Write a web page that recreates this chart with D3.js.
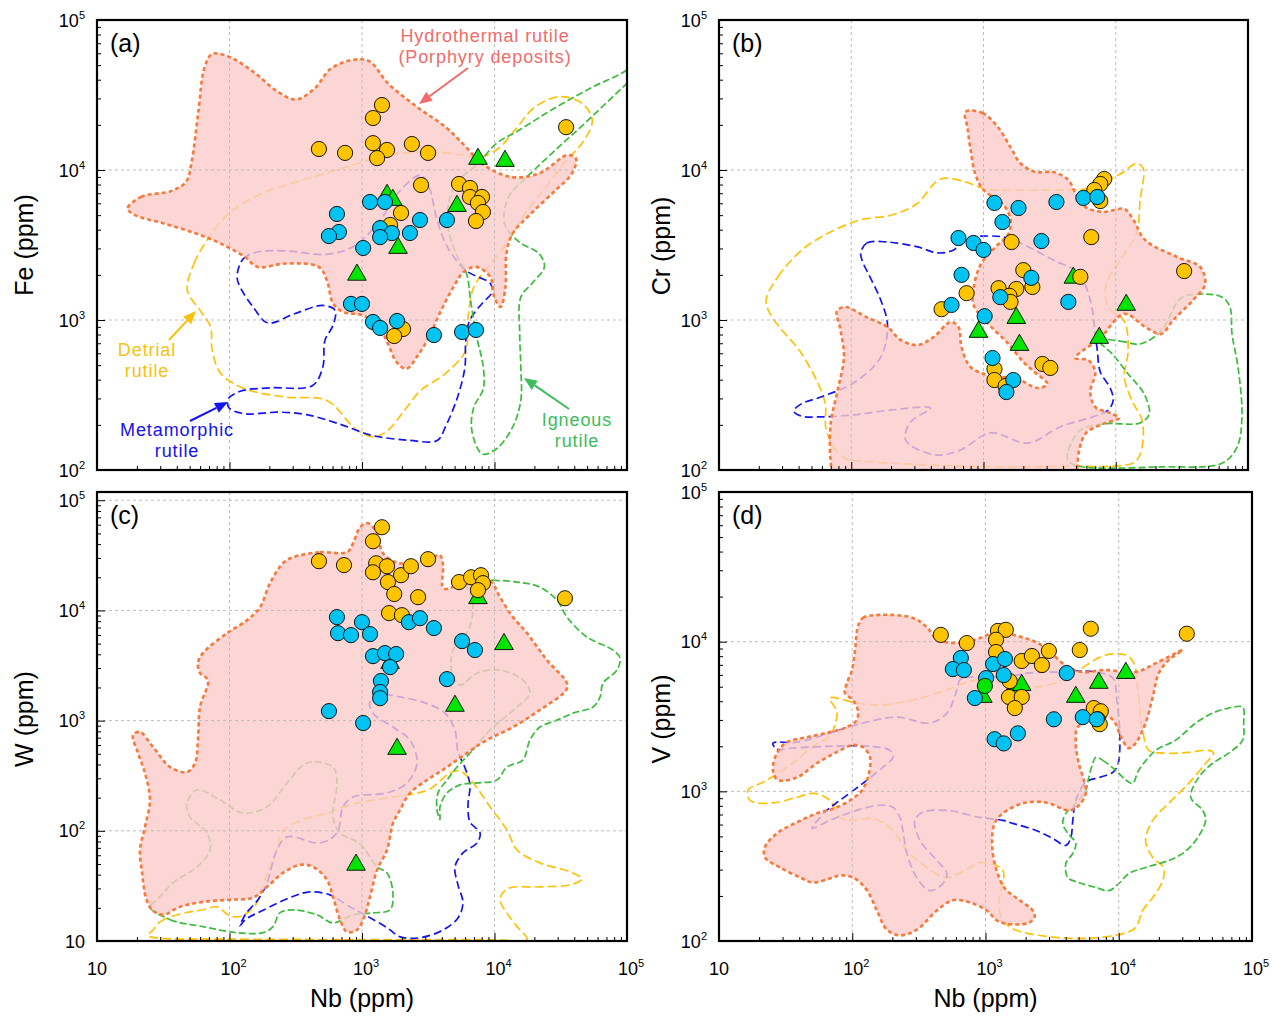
<!DOCTYPE html>
<html>
<head>
<meta charset="utf-8">
<script src="https://cdn.jsdelivr.net/npm/d3@7/dist/d3.min.js"></script>
<style>
  body { margin: 0; background: #fff; }
  svg { display: block; font-family: "Liberation Sans", Arial, sans-serif; }
</style>
</head>
<body>
<svg id="chart" width="1273" height="1019"></svg>
<script>
"use strict";

// ---- fields, [Nb ppm, element ppm] ----
var hydroA = [[17,5530],[21.5,6620],[36.6,7260],[47,8340],[52,11600],[58,23800],[65,48800],[74,59300],[99,56900],[151,45200],[232,33200],[319,29500],[439,35000],[584,47500],[893,54600],[1150,52700],[1570,37800],[2590,26400],[4250,19400],[6070,14300],[8060,11000],[13200,9000],[21700,9480],[35700,12600],[41200,11900],[38400,9480],[28900,7330],[18900,5130],[13700,3770],[12300,2770],[12100,1660],[11100,1220],[9960,1420],[9290,1940],[7240,2260],[5850,2090],[4900,1660],[3960,1160],[3200,771],[2590,566],[2170,473],[1820,525],[1570,695],[1370,875],[1030,1070],[721,1130],[604,1290],[543,1840],[471,2260],[267,2380],[163,2260],[131,2630],[86,3230],[56,3770],[32,4400],[19.4,5000]];
var detritalA = [[48,1580],[54,2380],[69,3490],[99,5130],[175,6970],[355,8550],[775,10500],[1570,12600],[3430,13200],[5650,12600],[7780,12200],[10700,13900],[14200,18400],[20300,26400],[31000,30800],[45800,27800],[54700,21500],[47500,15800],[33300,11000],[23300,7330],[16400,4870],[12300,3230],[8950,2260],[6980,1660],[6280,995],[6070,628],[4250,439],[2780,340],[2090,250],[1570,184],[1230,166],[893,188],[543,291],[267,306],[131,348],[86,439],[74,628],[72,897],[60,1160]];
var metaA = [[114,1940],[127,2560],[163,2840],[267,2890],[543,2740],[893,3150],[1370,4620],[1950,7330],[2780,9240],[3200,7720],[3690,4620],[4410,3070],[6070,2140],[9290,1750],[9620,1540],[8060,1290],[6500,995],[6070,731],[5980,485],[5260,306],[4250,193],[3690,157],[2250,158],[1190,170],[671,203],[381,234],[232,243],[131,237],[99,260],[98,298],[122,336],[201,353],[424,366],[506,485],[525,731],[604,920],[626,1160],[506,1250],[308,1100],[194,955],[151,1220],[122,1620]];
var igneousA = [[138000,60000],[100000,46400],[54700,35600],[26900,25100],[15300,18400],[10300,15000],[7500,11000],[5260,8340],[4500,5970],[4500,3960],[5260,2630],[6150,2040],[6600,1350],[7240,811],[8230,485],[8230,348],[6980,262],[6740,184],[8060,128],[10300,138],[13700,193],[15800,291],[15800,485],[15500,811],[15800,1420],[19600,1790],[23800,2260],[21700,2770],[15300,3320],[11900,4400],[12800,6620],[17600,9000],[28900,13600],[50900,21500],[100000,37800],[138000,48900]];

var hydroB = [[731,24400],[982,24000],[1280,19400],[1600,14200],[1900,11100],[2470,9700],[3370,9700],[4380,8580],[5030,6810],[5890,5670],[8050,5250],[11600,5500],[13600,4640],[16700,3410],[29100,2630],[43400,2260],[47400,1740],[38500,1360],[27200,1000],[22000,807],[16700,898],[11600,1100],[7640,759],[4940,558],[6190,541],[7000,450],[6420,331],[7000,263],[9080,240],[10600,222],[8050,203],[5980,177],[5300,136],[5120,100],[5100,74],[78,74],[70,113],[70,206],[79,341],[88,566],[83,858],[78,1150],[91,1220],[129,1050],[188,898],[236,736],[318,681],[420,771],[563,970],[647,898],[682,661],[798,486],[1130,424],[1750,410],[2560,352],[3040,374],[2380,457],[2000,525],[1520,703],[1070,955],[841,1260],[841,1630],[949,2330],[1230,3070],[1540,3740],[1600,4640],[1420,5840],[1000,7360],[871,9260],[798,13600],[757,19100]];
var detritalB = [[22.7,1360],[27.9,1940],[42.3,2930],[65,3740],[116,4640],[202,5010],[312,5930],[473,8710],[731,8320],[1035,7470],[1900,7360],[3810,7360],[6420,7590],[10800,9400],[14300,11000],[16100,10300],[15300,6310],[14300,3740],[10800,2510],[8470,1740],[8770,1220],[11600,985],[12400,621],[11600,417],[13300,288],[15800,215],[15800,142],[14000,113],[9080,106],[4540,106],[1340,105],[398,108],[153,113],[86,122],[65,182],[63,288],[42.3,593],[29.9,858],[24.3,1100]];
var metaB = [[118,2800],[131,3260],[188,3310],[318,3070],[450,2800],[594,2930],[757,3520],[1070,3630],[1420,3570],[1900,3260],[3370,2510],[5120,2090],[5890,1710],[6650,1170],[7000,794],[7250,631],[7640,450],[9080,352],[9570,293],[8770,251],[7000,229],[3810,194],[2150,151],[1130,177],[670,136],[434,126],[258,158],[281,209],[398,259],[199,251],[104,233],[59,226],[41.6,229],[36.8,247],[41.6,275],[59,307],[104,380],[167,566],[188,926],[167,1360],[136,2000],[122,2440]];
var igneousB = [[7380,736],[10800,724],[15300,692],[22000,845],[31200,1400],[45000,1490],[63700,1420],[73100,1220],[75700,807],[84000,486],[90000,226],[82600,142],[63700,111],[22000,105],[5310,106],[4310,117],[5310,182],[8180,203],[15300,206],[17900,236],[16400,321],[12400,437],[9420,593]];

var hydroC = [[301,30400],[482,33800],[771,33800],[855,40700],[966,56900],[1110,61800],[1300,50200],[1440,33000],[1940,26800],[3260,29800],[3880,31700],[4090,25800],[4090,15900],[4610,15900],[5490,18100],[7380,19600],[9250,18800],[11000,13200],[13800,8700],[17600,6220],[24900,3540],[35200,2190],[34700,1890],[22000,1250],[13800,875],[8770,667],[6200,508],[4380,379],[3100,289],[2300,220],[1940,155],[1710,116],[1545,67],[1300,44],[1150,25.2],[1020,15.6],[916,12.6],[771,12.1],[682,15.6],[604,25.2],[544,35.9],[427,47.1],[340,49.1],[253,41.5],[192,31],[150,24.7],[101,23.7],[63,22.6],[42.3,20.4],[31.5,17.3],[26,19.2],[23.4,24.7],[21.9,41.5],[21.1,67],[23,108],[25.1,191],[23,335],[20.4,508],[18.7,740],[21.1,789],[26.5,577],[35.6,379],[47.8,342],[55,413],[57.8,667],[59.9,1330],[68.8,2330],[59.9,2700],[57.8,3330],[63,4100],[95.7,6220],[136,8170],[170,10700],[202,17700],[253,26800]];
var detritalC = [[26.5,12.6],[29.9,14.9],[40.2,17.3],[63,19.2],[80.5,20.4],[101,16.9],[124,16.9],[161,22.2],[185,35.9],[228,67],[249,97.7],[359,126],[544,145],[855,175],[1545,199],[2430,216],[3260,240],[4610,335],[5490,349],[6890,272],[9250,165],[12400,102],[14800,67],[22000,51.2],[37100,42.4],[45700,36.6],[37100,32.3],[22000,31],[12400,29.7],[11000,23.7],[12400,18],[14800,13.5],[17600,10.4],[9000,10.3],[1000,10.3],[100,10.4],[30,10.6],[24.3,11.2]];
var metaC = [[1150,1480],[1490,1710],[1940,1640],[2990,1450],[4230,1170],[5030,822],[5300,519],[5990,372],[6530,261],[6310,172],[6530,120],[7780,95.7],[7380,77.6],[5780,63],[5030,47.1],[5300,32.3],[5780,22.2],[5300,16.2],[4090,12.6],[2740,10.7],[1940,10.9],[1545,13.2],[1050,17.3],[811,20.4],[573,26.2],[405,27.9],[297,25.2],[176,18.8],[131,15.6],[120,13.7],[133,17.7],[164,23.7],[192,33.7],[228,67],[272,88.1],[482,77.6],[647,95.7],[719,165],[855,203],[1545,221],[2190,272],[2600,413],[2300,667],[1710,875],[1210,1170]];
var igneousC = [[7780,18800],[9750,18800],[14800,18100],[22000,16300],[29600,12400],[35200,8700],[49900,5730],[78400,4370],[88500,3700],[84100,2880],[65900,2190],[62600,1640],[55400,1330],[39100,1170],[29600,1010],[22000,875],[18500,667],[16400,440],[12400,379],[10400,289],[7380,272],[5490,261],[4380,221],[3880,165],[3880,126],[3680,155],[3750,221],[4380,289],[5210,379],[6530,508],[9250,822],[14800,1330],[18500,1780],[16400,2330],[11000,2880],[7380,2700],[5490,2100],[4780,2700],[4860,4370],[6200,6220],[6890,10100],[6530,14400],[6200,16900]];
var igneousC2 = [[25.1,20.4],[35.6,15.6],[63,13.5],[114,11.9],[179,11.9],[213,13.5],[240,18],[301,19.2],[457,17.3],[604,14.6],[855,17.3],[1210,18],[1630,19.2],[1710,27.4],[1545,41.5],[1300,47.1],[966,76],[682,95.7],[604,134],[647,272],[604,379],[385,413],[272,272],[192,165],[126,145],[84.7,191],[56.9,235],[47.8,179],[50.3,134],[67.6,95.7],[71.3,67],[56.9,47.1],[37.5,33.7],[28.4,23.7]];

var hydroD = [[110,12500],[120,14400],[161,15100],[285,14400],[363,12500],[432,10400],[589,9790],[861,10400],[1220,11600],[1750,10900],[2470,9790],[3200,8150],[4290,6670],[5370,6270],[7990,6470],[13400,6270],[19000,7190],[30200,8790],[23700,7530],[20000,6170],[18000,4270],[15900,2860],[13400,2100],[11900,1940],[10400,2310],[9330,2900],[8410,3130],[6610,2990],[4930,2690],[4760,2100],[5010,1540],[5470,1190],[5660,970],[5010,805],[4220,746],[2840,843],[1910,832],[1350,713],[1170,611],[1120,449],[1200,305],[1400,224],[1810,187],[2260,160],[2340,146],[2150,133],[1720,129],[1400,131],[1220,137],[1020,160],[763,181],[569,187],[432,160],[305,119],[228,109],[182,119],[153,160],[129,218],[101,266],[80.8,274],[68,262],[50.7,246],[40.5,266],[28.7,310],[22.1,362],[22.1,423],[27.2,524],[38.5,621],[54.3,713],[76.7,782],[101,897],[118,1010],[131,1240],[136,1690],[120,1970],[101,2040],[76.7,1830],[54.3,1540],[38.5,1240],[27.7,1190],[25.4,1380],[27.2,1800],[32.4,2130],[45.7,2300],[68,2490],[91.2,2690],[108,2990],[110,3490],[101,4070],[88.1,4540],[91.2,5300],[99.5,6470],[105,8810]];
var detritalD = [[68,4200],[108,3890],[161,3770],[285,4070],[513,4750],[832,5530],[1280,5370],[2110,4970],[3370,5290],[5010,6470],[7990,8150],[11300,8150],[13000,7190],[13900,4750],[15100,2560],[16800,1880],[21400,1800],[33500,1820],[47300,1880],[51600,1800],[44900,1540],[33500,1130],[23700,832],[18000,640],[15900,470],[18000,361],[21700,310],[21400,254],[18000,195],[15100,160],[13400,123],[10700,112],[6720,105],[3800,105],[2110,112],[1600,121],[1350,137],[1260,178],[1350,296],[955,335],[763,310],[513,265],[363,310],[257,402],[202,547],[143,659],[101,640],[80.8,670],[68,871],[50.7,970],[38.5,912],[24.1,832],[17.1,871],[16.5,1020],[21.4,1150],[34.1,1500],[52.5,2040],[64.6,2270],[71.6,2560],[76.7,3390]];
var metaD = [[25.4,2100],[27.2,1910],[34.1,1940],[68,2000],[136,2000],[192,1880],[202,1690],[170,1450],[120,1130],[80.8,871],[64.6,746],[49.8,565],[68,640],[108,746],[161,807],[202,782],[228,670],[240,548],[257,385],[305,265],[383,217],[479,242],[513,282],[432,345],[322,470],[295,640],[339,724],[513,746],[908,670],[1350,640],[1600,611],[2390,548],[3200,484],[4010,435],[4370,492],[4520,640],[4760,871],[5660,1150],[7200,1240],[9020,1340],[9830,1500],[10200,2310],[9660,4070],[9020,5720],[6720,6270],[5010,6370],[3610,6270],[2110,6180],[1450,5810],[803,5810],[642,5550],[610,4750],[513,3330],[383,2860],[216,3130],[120,2860],[68,2450],[38.5,2130]];
var igneousD = [[6720,1690],[7590,1610],[9490,1380],[11300,1190],[12700,1130],[14100,1380],[19000,1880],[26800,2200],[37800,2860],[50700,3330],[66800,3600],[85100,3650],[86600,2860],[85100,2200],[66800,1800],[50700,1540],[39800,1240],[34700,912],[42700,746],[44900,640],[37800,470],[30200,385],[23700,345],[15900,310],[11900,282],[10000,242],[8410,217],[6720,228],[5010,246],[4150,265],[4010,330],[4520,385],[4760,449],[4150,524],[3800,611],[4010,713],[4760,832],[5660,1020],[5960,1240],[6380,1540]];

// ---- samples, [Nb ppm, element ppm] ----
var yellowA = [[1415,27100],[1210,22200],[473,13800],[745,13000],[1210,15100],[1545,13600],[1300,12000],[2380,14900],[3150,13000],[2790,7940],[5400,8070],[6530,7590],[6530,6610],[8050,6610],[7500,6030],[8180,5250],[7250,4570],[1970,5170],[1630,4300],[2040,871],[1750,782],[34700,19300]];
var blueA = [[647,5090],[670,3860],[563,3630],[1150,6120],[1490,6120],[1020,3020],[1370,4100],[1680,3800],[1370,3570],[2300,3800],[2740,4640],[4380,4640],[826,1280],[1000,1280],[1210,970],[1370,885],[1840,985],[3490,794],[5690,832],[7250,858]];
var triA = [[1545,6810],[1710,6310],[7500,11840],[12000,11480],[5210,5750],[1870,3020],[916,2000]];

var yellowB = [[8180,8710],[7640,8070],[6890,7360],[7640,6210],[1630,3310],[6530,3570],[2000,2150],[5400,1940],[2340,1660],[1300,1630],[1770,1610],[1570,1450],[1600,1320],[745,1510],[482,1180],[1210,471],[1210,398],[1470,363],[2790,509],[3200,479],[32900,2120]];
var blueB = [[1210,6030],[1840,5580],[1390,4500],[3560,6120],[5690,6510],[7250,6610],[647,3520],[841,3260],[1000,2930],[2740,3360],[682,2000],[573,1260],[2300,1910],[1340,1420],[4380,1320],[1020,1060],[1170,558],[1680,398],[1490,331]];
var triB = [[4780,1910],[1770,1030],[12000,1260],[916,832],[1870,681],[7500,759]];

var yellowC = [[1415,56900],[1210,42500],[473,28000],[731,25800],[1280,26800],[1210,22200],[1545,25200],[1970,20900],[2340,25200],[1570,18100],[1750,14100],[1600,9460],[2000,9060],[2650,13200],[3150,29200],[5400,18100],[6650,20000],[7910,20900],[8180,17700],[7500,15300],[34000,12900]];
var blueC = [[647,8700],[659,6220],[826,5970],[1000,7830],[1150,6100],[1210,3850],[1490,4100],[1810,4020],[1630,3060],[1390,2290],[1370,1820],[1370,1600],[563,1220],[1020,951],[2260,7830],[2740,8510],[3490,6920],[5690,5270],[7120,4370],[4380,2380]];
var triC = [[1840,553],[902,49.1],[1630,3330],[11800,4940],[5030,1360],[7500,12900]];

var yellowD = [[462,11100],[724,9790],[1240,11800],[1420,12000],[1200,10300],[1200,8530],[1520,5450],[1500,4270],[1870,4270],[1660,3600],[1870,7430],[2230,8020],[2650,6980],[2990,8670],[5100,8790],[6170,12200],[32400,11300],[6500,3600],[7330,3430],[6960,3030],[7200,2810]];
var blueD = [[653,7780],[569,6560],[688,6460],[1010,5710],[1140,7090],[1400,7660],[1370,5980],[832,4200],[1170,2230],[1370,2090],[1750,2440],[4070,6170],[3260,3030],[5370,3130],[6840,3030]];
var triD = [[955,4270],[1600,4750],[1870,5130],[4760,4270],[7080,5300],[11300,6170]];
var greenDotD = [[989,5060]];

var xTickExps = [1, 2, 3, 4, 5];

var svg = d3.select("#chart");
var defs = svg.append("defs");

var panels = [
  {id: "a", x0: 97, x1: 627, y0: 20, y1: 470, yMin: 100, yMax: 1e5, letter: "(a)", title: "Fe (ppm)", tx: 33, ty: 245, xLabels: false,
   hydro: hydroA, detrital: detritalA, meta: metaA, igneous: [igneousA], yellow: yellowA, blue: blueA, tri: triA, dot: []},
  {id: "b", x0: 719, x1: 1248, y0: 20, y1: 470, yMin: 100, yMax: 1e5, letter: "(b)", title: "Cr (ppm)", tx: 670, ty: 246, xLabels: false,
   hydro: hydroB, detrital: detritalB, meta: metaB, igneous: [igneousB], yellow: yellowB, blue: blueB, tri: triB, dot: []},
  {id: "c", x0: 97, x1: 627, y0: 492, y1: 941, yMin: 10, yMax: Math.pow(10, 5.075), letter: "(c)", title: "W (ppm)", tx: 33, ty: 719, xLabels: true,
   hydro: hydroC, detrital: detritalC, meta: metaC, igneous: [igneousC, igneousC2], yellow: yellowC, blue: blueC, tri: triC, dot: []},
  {id: "d", x0: 719, x1: 1252, y0: 492, y1: 941, yMin: 100, yMax: 1e5, letter: "(d)", title: "V (ppm)", tx: 670, ty: 719, xLabels: true,
   hydro: hydroD, detrital: detritalD, meta: metaD, igneous: [igneousD], yellow: yellowD, blue: blueD, tri: triD, dot: greenDotD}
];

function decadeTicks(domain) {
  var major = [], minor = [];
  var lo = Math.floor(Math.log10(domain[0]) + 1e-9), hi = Math.ceil(Math.log10(domain[1]));
  for (var e = lo; e <= hi; e++) {
    var base = Math.pow(10, e);
    if (base >= domain[0] * 0.999 && base <= domain[1] * 1.001) major.push(base);
    for (var k = 2; k <= 9; k++) {
      var v = k * base;
      if (v > domain[0] && v < domain[1]) minor.push(v);
    }
  }
  return {major: major, minor: minor};
}

function powLabel(sel, v) {
  var e = Math.round(Math.log10(v));
  sel.append("tspan").text("10");
  if (e > 1) sel.append("tspan").attr("dy", -8).attr("font-size", 11).text(e);
}

function drawPanel(p) {
  var x = d3.scaleLog().domain([10, 1e5]).range([p.x0, p.x1]);
  var y = d3.scaleLog().domain([p.yMin, p.yMax]).range([p.y1, p.y0]);
  var g = svg.append("g");
  var clipId = "clip-" + p.id;
  defs.append("clipPath").attr("id", clipId).append("rect")
      .attr("x", p.x0).attr("y", p.y0).attr("width", p.x1 - p.x0).attr("height", p.y1 - p.y0);

  var line = d3.line()
      .x(function(d) { return x(d[0]); })
      .y(function(d) { return y(d[1]); })
      .curve(d3.curveCatmullRomClosed.alpha(0.5));

  var plot = g.append("g").attr("clip-path", "url(#" + clipId + ")");

  // rutile fields (under the hydrothermal fill)
  plot.append("path").datum(p.detrital).attr("d", line)
      .attr("fill", "none").attr("stroke", "#ffc20a").attr("stroke-width", 1.7).attr("stroke-dasharray", "9,4");
  plot.append("path").datum(p.meta).attr("d", line)
      .attr("fill", "none").attr("stroke", "#1414f0").attr("stroke-width", 1.7).attr("stroke-dasharray", "8,4");
  p.igneous.forEach(function(f) {
    plot.append("path").datum(f).attr("d", line)
        .attr("fill", "none").attr("stroke", "#3cbc3c").attr("stroke-width", 1.7).attr("stroke-dasharray", "7,3");
  });

  plot.append("path").datum(p.hydro).attr("d", line)
      .attr("fill", "#fbcaca").attr("fill-opacity", 0.8).attr("stroke", "none");

  // grid
  var xt = decadeTicks(x.domain()), yt = decadeTicks(y.domain());
  plot.selectAll(".gx").data(xt.major.filter(function(v) { return v > 10 && v < 1e5; }))
    .enter().append("line")
      .attr("x1", function(d) { return x(d); }).attr("x2", function(d) { return x(d); })
      .attr("y1", p.y0).attr("y2", p.y1)
      .attr("stroke", "#bdbdbd").attr("stroke-width", 1).attr("stroke-dasharray", "3,3");
  plot.selectAll(".gy").data(yt.major.filter(function(v) { return v > p.yMin && v < p.yMax * 0.999; }))
    .enter().append("line")
      .attr("y1", function(d) { return y(d); }).attr("y2", function(d) { return y(d); })
      .attr("x1", p.x0).attr("x2", p.x1)
      .attr("stroke", "#bdbdbd").attr("stroke-width", 1).attr("stroke-dasharray", "3,3");

  plot.append("path").datum(p.hydro).attr("d", line)
      .attr("fill", "none").attr("stroke", "#f67a3c").attr("stroke-width", 2.6).attr("stroke-dasharray", "4,3");

  // samples
  plot.selectAll(".tri").data(p.tri).enter().append("path")
      .attr("d", d3.symbol().type(d3.symbolTriangle).size(150))
      .attr("transform", function(d) { return "translate(" + x(d[0]) + "," + y(d[1]) + ")"; })
      .attr("fill", "#00e600").attr("stroke", "#000").attr("stroke-width", 0.9);
  plot.selectAll(".yc").data(p.yellow).enter().append("circle")
      .attr("cx", function(d) { return x(d[0]); }).attr("cy", function(d) { return y(d[1]); }).attr("r", 7.6)
      .attr("fill", "#ffc400").attr("stroke", "#000").attr("stroke-width", 0.9);
  plot.selectAll(".bc").data(p.blue).enter().append("circle")
      .attr("cx", function(d) { return x(d[0]); }).attr("cy", function(d) { return y(d[1]); }).attr("r", 7.6)
      .attr("fill", "#00c3f2").attr("stroke", "#000").attr("stroke-width", 0.9);
  plot.selectAll(".gc").data(p.dot).enter().append("circle")
      .attr("cx", function(d) { return x(d[0]); }).attr("cy", function(d) { return y(d[1]); }).attr("r", 7.6)
      .attr("fill", "#00e600").attr("stroke", "#000").attr("stroke-width", 0.9);

  // axes (inward ticks, left and bottom)
  function noDomain(s) { s.select(".domain").remove(); s.selectAll("line").attr("stroke", "#000"); }
  g.append("g").attr("transform", "translate(" + p.x0 + ",0)")
      .call(d3.axisLeft(y).tickValues(yt.minor).tickSize(-4).tickFormat("")).call(noDomain);
  g.append("g").attr("transform", "translate(" + p.x0 + ",0)")
      .call(d3.axisLeft(y).tickValues(yt.major).tickSize(-8).tickFormat("")).call(noDomain);
  g.append("g").attr("transform", "translate(0," + p.y1 + ")")
      .call(d3.axisBottom(x).tickValues(xt.minor).tickSize(-4).tickFormat("")).call(noDomain);
  g.append("g").attr("transform", "translate(0," + p.y1 + ")")
      .call(d3.axisBottom(x).tickValues(xt.major).tickSize(-8).tickFormat("")).call(noDomain);

  g.append("rect").attr("x", p.x0).attr("y", p.y0)
      .attr("width", p.x1 - p.x0).attr("height", p.y1 - p.y0)
      .attr("fill", "none").attr("stroke", "#000").attr("stroke-width", 2.2);

  // tick labels
  yt.major.forEach(function(v) {
    var t = g.append("text").attr("x", p.x0 - 12).attr("y", y(v) + 6.5)
        .attr("text-anchor", "end").attr("font-size", 18);
    powLabel(t, v);
  });
  if (p.xLabels) {
    xTickExps.forEach(function(e) {
      var v = Math.pow(10, e);
      var t = g.append("text").attr("x", x(v) + (e > 1 ? 4 : 0)).attr("y", p.y1 + 34)
          .attr("text-anchor", "middle").attr("font-size", 18);
      powLabel(t, v);
    });
    g.append("text").attr("x", (p.x0 + p.x1) / 2).attr("y", 1007)
        .attr("text-anchor", "middle").attr("font-size", 25).text("Nb (ppm)");
  }

  g.append("text").attr("transform", "translate(" + p.tx + "," + p.ty + ") rotate(-90)")
      .attr("text-anchor", "middle").attr("font-size", 25).text(p.title);
  g.append("text").attr("x", p.x0 + 13).attr("y", p.y0 + 32)
      .attr("font-size", 25).text(p.letter);
}

panels.forEach(drawPanel);

// ---- field annotations in panel (a) ----
var notes = [
  {lines: ["Hydrothermal rutile", "(Porphyry deposits)"], x: 485, y: 42, color: "#f46a6a", arrow: [468, 68, 419, 104]},
  {lines: ["Detrial", "rutile"], x: 147, y: 356, color: "#f7c20f", arrow: [169, 340, 196, 311]},
  {lines: ["Metamorphic", "rutile"], x: 177, y: 436, color: "#1414f0", arrow: [190, 421, 228, 402]},
  {lines: ["Igneous", "rutile"], x: 577, y: 426, color: "#3cbc5a", arrow: [569, 409, 524, 378]}
];

function drawArrow(a, color) {
  var ang = Math.atan2(a[3] - a[1], a[2] - a[0]), len = 13, w = 5.5;
  var bx = a[2] - len * Math.cos(ang), by = a[3] - len * Math.sin(ang);
  svg.append("line").attr("x1", a[0]).attr("y1", a[1]).attr("x2", bx).attr("y2", by)
      .attr("stroke", color).attr("stroke-width", 2);
  svg.append("path")
      .attr("d", "M" + a[2] + "," + a[3] +
                 "L" + (bx + w * Math.sin(ang)) + "," + (by - w * Math.cos(ang)) +
                 "L" + (bx - w * Math.sin(ang)) + "," + (by + w * Math.cos(ang)) + "Z")
      .attr("fill", color);
}

notes.forEach(function(n) {
  n.lines.forEach(function(s, i) {
    svg.append("text").attr("x", n.x).attr("y", n.y + i * 20.5)
        .attr("text-anchor", "middle").attr("font-size", 18).attr("letter-spacing", 0.9)
        .attr("fill", n.color).text(s);
  });
  drawArrow(n.arrow, n.color);
});
</script>
</body>
</html>
